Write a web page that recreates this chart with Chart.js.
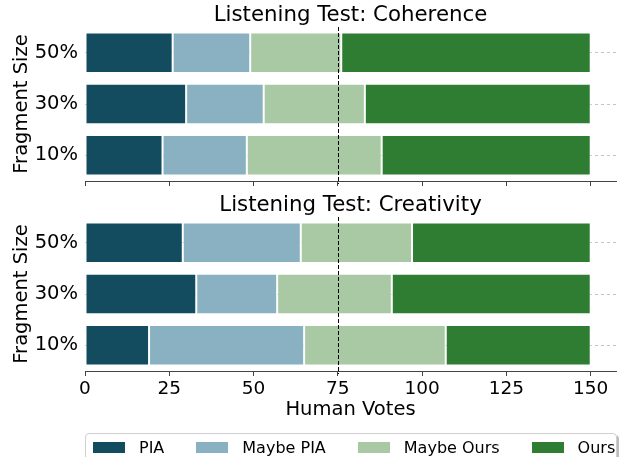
<!DOCTYPE html>
<html>
<head>
<meta charset="utf-8">
<script src="https://cdn.jsdelivr.net/npm/chart.js@4.4.0/dist/chart.umd.min.js"></script>
<style>
  body { margin: 0; background: #fff; width: 628px; height: 457px; overflow: hidden; position: relative; font-family: 'DejaVu Sans', sans-serif; }
  #topChart { position: absolute; left: 0; top: 0; }
  #bottomChart { position: absolute; left: 0; top: 190px; }
  #legend { position: absolute; left: 85px; top: 433px; width: 532px; height: 34px; box-sizing: border-box;
            border: 1px solid #cfcfcf; border-radius: 4px; box-shadow: 2px 2px 0 #bdbdbd;
            display: flex; align-items: flex-start; padding: 4px 0 0 7px; font-size: 16px; line-height: 19px; color: #000; white-space: nowrap; }
  .legendItem { display: flex; align-items: center; margin-right: 32px; flex: none; }
  .legendSwatch { width: 32px; height: 11px; margin-right: 14px; flex: none; }
</style>
</head>
<body>
<canvas id="topChart" width="628" height="192"></canvas>
<canvas id="bottomChart" width="628" height="232"></canvas>
<div id="legend"></div>
<script>
const categories = ['50%', '30%', '10%'];
const seriesNames = ['PIA', 'Maybe PIA', 'Maybe Ours', 'Ours'];
const seriesColors = ['#134b5f', '#89b1c1', '#a9c9a4', '#2e7d32'];
const voteTicks = [0, 25, 50, 75, 100, 125, 150];
const midVote = 75;

// Listening Test: Coherence
const coherencePIA = [26, 30, 23];
const coherenceMaybePIA = [23, 23, 25];
const coherenceMaybeOurs = [27, 30, 40];
const coherenceOurs = [74, 67, 62];

// Listening Test: Creativity
const creativityPIA = [29, 33, 19];
const creativityMaybePIA = [35, 24, 46];
const creativityMaybeOurs = [33, 34, 42];
const creativityOurs = [53, 59, 43];

const fontFamily = "'DejaVu Sans', sans-serif";

const midLinePlugin = {
    id: 'midLine',
    afterDatasetsDraw(chart) {
        const ctx = chart.ctx;
        const area = chart.chartArea;
        const x = Math.round(chart.scales.x.getPixelForValue(midVote)) + 0.5;
        ctx.save();
        ctx.strokeStyle = '#000';
        ctx.lineWidth = 1;
        ctx.setLineDash([4, 2]);
        ctx.beginPath();
        ctx.moveTo(x, area.top);
        ctx.lineTo(x, area.bottom + 3);
        ctx.stroke();
        ctx.restore();
    }
};

const panelTitlePlugin = {
    id: 'panelTitle',
    afterDraw(chart, args, opts) {
        const ctx = chart.ctx;
        const area = chart.chartArea;
        ctx.save();
        ctx.fillStyle = '#000';
        ctx.font = '21.3px ' + fontFamily;
        ctx.textAlign = 'center';
        ctx.textBaseline = 'middle';
        ctx.fillText(opts.text, (area.left + area.right) / 2, 15);
        ctx.restore();
    }
};

makeChart = (id, title, values, showLabels) => {
    let ctx = document.getElementById(id).getContext('2d');
    return new Chart(ctx, {
        type: 'bar',
        data: {
            labels: categories,
            datasets: seriesNames.map((name, i) => ({
                label: name,
                data: values[i],
                backgroundColor: seriesColors[i],
                borderColor: 'rgba(255,255,255,0.75)',
                borderWidth: 1,
                borderSkipped: false,
                categoryPercentage: 1,
                barPercentage: 0.79
            }))
        },
        options: {
            indexAxis: 'y',
            responsive: false,
            animation: false,
            layout: { padding: { left: 0, right: 12, top: 27, bottom: 0 } },
            plugins: {
                legend: { display: false },
                tooltip: { enabled: false },
                title: { display: false },
                panelTitle: { text: title }
            },
            scales: {
                x: {
                    type: 'linear',
                    stacked: true,
                    min: 0,
                    max: 157.5,
                    afterBuildTicks: s => { s.ticks = voteTicks.map(v => ({ value: v })); },
                    afterFit: s => { s.height = showLabels ? 51 : 11; },
                    grid: { drawOnChartArea: false, drawTicks: true, tickLength: 5, color: '#444' },
                    border: { display: true, color: '#444', width: 1 },
                    ticks: { display: showLabels, color: '#000', font: { family: fontFamily, size: 18.5 }, padding: 2, maxRotation: 0 },
                    title: { display: showLabels, text: 'Human Votes', color: '#000', font: { family: fontFamily, size: 19.5 }, padding: { top: 0, bottom: 0 } }
                },
                y: {
                    stacked: true,
                    afterFit: s => { s.width = 85; s.paddingTop = 0; s.paddingBottom = 0; },
                    grid: { offset: false, drawTicks: false, color: '#c4c4c4', lineWidth: 1 },
                    border: { display: false, dash: [3, 3] },
                    ticks: { color: '#000', font: { family: fontFamily, size: 19.5 }, padding: 7 },
                    title: { display: true, text: 'Fragment Size', color: '#000', font: { family: fontFamily, size: 19.5 }, padding: { top: 10, bottom: 0 } }
                }
            }
        },
        plugins: [midLinePlugin, panelTitlePlugin]
    });
}

makeChart('topChart', 'Listening Test: Coherence',
    [coherencePIA, coherenceMaybePIA, coherenceMaybeOurs, coherenceOurs], false);
makeChart('bottomChart', 'Listening Test: Creativity',
    [creativityPIA, creativityMaybePIA, creativityMaybeOurs, creativityOurs], true);

createLegend = () => {
    let legendDiv = document.getElementById('legend');
    for (let i = 0; i < seriesNames.length; i++) {
        let item = document.createElement('div');
        item.className = 'legendItem';
        let swatch = document.createElement('span');
        swatch.className = 'legendSwatch';
        swatch.style.background = seriesColors[i];
        let label = document.createElement('span');
        label.innerText = seriesNames[i];
        item.appendChild(swatch);
        item.appendChild(label);
        legendDiv.appendChild(item);
    }
}

createLegend();
</script>
</body>
</html>
